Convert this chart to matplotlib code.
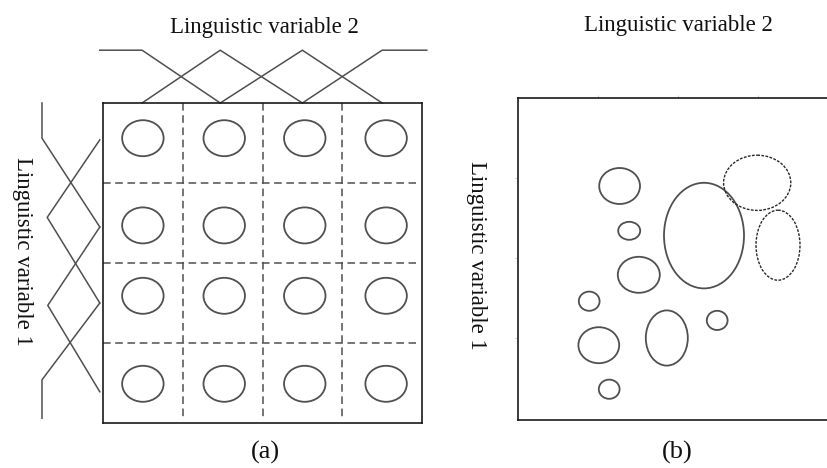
import matplotlib.pyplot as plt
from matplotlib.patches import Ellipse

W, H = 827, 468

# --- panel (a): grid partition -------------------------------------------
grid_lines = [1, 2, 3]
circ_x = [0.50, 1.52, 2.53, 3.55]
circ_y = [0.44, 1.53, 2.41, 3.51]
circ_w, circ_h = 0.52, 0.45

# membership functions above the box (x breakpoints, membership)
top_mf_x = [[-0.04, 0.49, 1.47], [0.49, 1.47, 2.50], [1.47, 2.50, 3.50], [2.50, 3.50, 4.06]]
top_mf_mu = [[1, 1, 0], [0, 1, 0], [0, 1, 0], [0, 1, 1]]
# membership functions left of the box (y breakpoints, membership)
left_mf_y = [[0.0, 0.44, 1.55], [0.46, 1.43, 2.50], [1.55, 2.53, 3.61], [2.50, 3.46, 3.94]]
left_mf_mu = [[1, 1, 0], [0, 0.91, 0], [0, 0.90, 0], [0, 1, 1]]

# --- panel (b): free clusters ----------------------------------------------
ell_x = [1.27, 1.39, 2.325, 2.99, 3.25, 1.51, 0.89, 1.01, 1.86, 2.49, 1.14]
ell_y = [1.10, 1.66, 1.72, 1.06, 1.84, 2.21, 2.54, 3.09, 3.00, 2.78, 3.64]
ell_w = [0.51, 0.275, 1.00, 0.84, 0.55, 0.525, 0.26, 0.51, 0.525, 0.26, 0.26]
ell_h = [0.45, 0.225, 1.32, 0.69, 0.875, 0.45, 0.24, 0.45, 0.69, 0.24, 0.24]
ell_dashed = [False, False, False, True, True, False, False, False, False, False, False]

line_col = '#505050'
serif = 'Liberation Serif'

fig = plt.figure(figsize=(W / 100, H / 100), dpi=100)

# panel (a)
ax = fig.add_axes([103 / W, 1 - 423 / H, 319 / W, 320 / H])
ax.set_xlim(0, 4)
ax.set_ylim(4, 0)
ax.set_xticks([])
ax.set_yticks([])
for s in ax.spines.values():
    s.set_color('#1a1a1a')
    s.set_linewidth(1.2)

for g in grid_lines:
    ax.plot([g, g], [0, 3.93], color=line_col, lw=1.1, ls=(0, (5, 3)))
    ax.plot([0, 3.92], [g, g], color=line_col, lw=1.1, ls=(0, (5, 3)))

for cy in circ_y:
    for cx in circ_x:
        ax.add_patch(Ellipse((cx, cy), circ_w, circ_h, fill=False,
                             edgecolor=line_col, lw=1.3))

top_scale = 0.66
for xs, mus in zip(top_mf_x, top_mf_mu):
    ax.plot(xs, [-top_scale * m for m in mus], color=line_col, lw=1.1, clip_on=False)

left_base, left_scale = -0.04, 0.725
for ys, mus in zip(left_mf_y, left_mf_mu):
    ax.plot([left_base - left_scale * m for m in mus], ys, color=line_col, lw=1.1, clip_on=False)

# panel (b)
bx = fig.add_axes([518 / W, 1 - 420 / H, 309 / W, 322 / H])
bx.set_xlim(0, 309 / 80)
bx.set_ylim(322 / 80, 0)
bx.spines['right'].set_visible(False)
for s in ['top', 'left', 'bottom']:
    bx.spines[s].set_color('#1a1a1a')
    bx.spines[s].set_linewidth(1.2)
bx.set_xticks([1, 2, 3])
bx.set_yticks([1, 2, 3])
bx.xaxis.tick_top()
bx.tick_params(length=2, width=0.6, color='#c8c8c8', labeltop=False, labelleft=False,
               labelbottom=False)

for x, y, w, h, d in zip(ell_x, ell_y, ell_w, ell_h, ell_dashed):
    if d:
        bx.add_patch(Ellipse((x, y), w, h, fill=False, edgecolor='#2a2a2a', lw=1.0,
                             ls=(0, (2, 1))))
    else:
        bx.add_patch(Ellipse((x, y), w, h, fill=False, edgecolor=line_col, lw=1.3))

# labels
fs = 16.5
fig.text(264 / W, 1 - 27 / H, 'Linguistic variable 2', family=serif, fontsize=fs,
         ha='center', va='center', color='#111111')
fig.text(22 / W, 1 - 251 / H, 'Linguistic variable 1', family=serif, fontsize=fs,
         ha='center', va='center', rotation=-90, color='#111111')
fig.text(678 / W, 1 - 25 / H, 'Linguistic variable 2', family=serif, fontsize=fs,
         ha='center', va='center', color='#111111')
fig.text(477 / W, 1 - 255 / H, 'Linguistic variable 1', family=serif, fontsize=fs,
         ha='center', va='center', rotation=-90, color='#111111')
fig.text(265 / W, 1 - 452 / H, '(a)', family=serif, fontsize=19, ha='center', va='center',
         color='#111111')
fig.text(677 / W, 1 - 452 / H, '(b)', family=serif, fontsize=19, ha='center', va='center',
         color='#111111')

fig.savefig('out.png', dpi=100)
